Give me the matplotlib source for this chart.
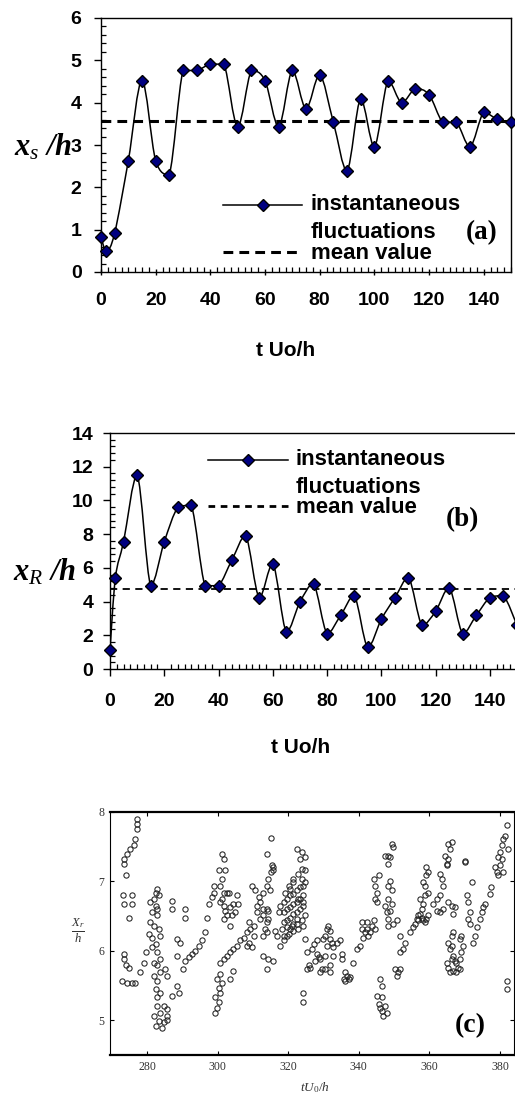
import numpy as np
import matplotlib
matplotlib.use('Agg')
import matplotlib.pyplot as plt
from matplotlib.path import Path
from matplotlib.patches import PathPatch
from matplotlib.ticker import MultipleLocator

plt.rcParams['font.family'] = ['Liberation Sans', 'DejaVu Sans']
plt.rcParams['mathtext.fontset'] = 'custom'
plt.rcParams['mathtext.rm'] = 'Liberation Serif'
plt.rcParams['mathtext.it'] = 'Liberation Serif:italic'
plt.rcParams['mathtext.bf'] = 'Liberation Serif:bold:italic'

# panel (a): separation point x_s/h
t_a = [0, 2, 5, 10, 15, 20, 25, 30, 35, 40, 45, 50, 55, 60, 65, 70, 75, 80, 85, 90,
       95, 100, 105, 110, 115, 120, 125, 130, 135, 140, 145, 150]
xs_a = [0.82, 0.49, 0.92, 2.63, 4.52, 2.63, 2.30, 4.76, 4.76, 4.91, 4.91, 3.43, 4.76, 4.52,
        3.43, 4.76, 3.86, 4.66, 3.54, 2.39, 4.09, 2.96, 4.52, 4.00, 4.33, 4.19, 3.54, 3.54,
        2.96, 3.77, 3.61, 3.54]
mean_a = 3.57

# panel (b): reattachment point x_R/h
t_b = [0, 2, 5, 10, 15, 20, 25, 30, 35, 40, 45, 50, 55, 60, 65, 70, 75, 80, 85, 90,
       95, 100, 105, 110, 115, 120, 125, 130, 135, 140, 145, 150]
xr_b = [1.15, 5.42, 7.55, 11.49, 4.94, 7.55, 9.59, 9.71, 4.94, 4.94, 6.49, 7.91, 4.23, 6.25,
        2.19, 3.97, 5.06, 2.10, 3.18, 4.35, 1.29, 2.95, 4.23, 5.42, 2.59, 3.42, 4.82, 2.10,
        3.18, 4.23, 4.35, 2.59]
mean_b = 4.77

# panel (c): scanned scatter X_r/h vs tU0/h
t_c = [277.2, 277.2, 277.2, 276.7, 276.2, 275.3, 274.3, 273.6, 273.6, 273.9,
       273.2, 275.8, 273.4, 275.6, 274.8, 273.4, 273.4, 273.9, 274.8,
       272.9, 274.3, 275.8, 276.7, 278.1, 279.1, 279.8,
       282.8, 282.4, 283.3, 281.9, 280.9, 282.4, 282.8, 281.4, 282.8,
       280.9, 281.9, 283.3, 280.5, 281.4, 283.8,
       282.4, 281.4, 282.8, 283.8, 281.9, 282.8, 283.8, 281.9, 282.8,
       282.4, 283.8, 282.8,
       282.8, 284.7, 285.7, 283.8, 281.9, 285.7, 283.3, 284.7, 282.4, 284.2, 285.7,
       285.2, 285.7,
       287.1, 287.1, 287.1, 288.5, 289.0, 288.5, 289.4, 288.5,
       290.8, 290.8, 290.2,
       290.8, 291.8, 292.7, 293.7, 294.6, 295.6, 296.5,
       297.0, 298.9, 298.9, 298.4, 297.5,
       299.3, 299.8, 300.3, 299.3, 300.8, 300.3, 301.2, 299.8, 300.8,
       301.2, 301.7, 302.2, 300.3,
       301.2, 300.8, 301.7, 301.2, 302.6,
       300.8, 301.7, 302.2, 303.6, 302.6, 304.1, 301.7, 303.6,
       300.8, 301.7, 302.6, 303.6, 304.5, 305.5, 306.4, 307.4, 308.3, 309.2, 310.2,
       303.1, 304.5, 303.6, 304.5,
       305.5, 305.9, 305.0,
       308.8, 308.8, 308.3, 309.7, 310.2,
       309.7, 310.7, 311.6, 311.1, 312.1, 313.0, 313.0, 314.0, 313.5, 312.1, 311.1,
       313.0, 314.0, 314.4, 315.1, 315.4, 314.0, 315.1, 315.7, 315.7,
       314.9, 314.0, 314.4, 314.0, 313.0, 314.4,
       313.0, 314.4, 315.8, 314.0,
       317.7, 318.7, 319.6, 320.6, 321.5, 322.5,
       317.3, 316.8, 316.3,
       317.7, 318.7, 319.6, 320.6, 321.5, 322.5, 323.4, 324.3,
       318.7, 319.6, 320.6, 321.5, 322.5, 323.4, 324.3,
       318.7, 319.6, 320.6, 321.5, 322.5, 323.4, 324.3,
       318.2, 319.6, 321.0, 322.5, 323.9, 324.8,
       318.7, 320.1, 321.5, 322.9, 324.3,
       319.2, 320.1, 321.5, 322.9, 323.9, 324.8, 323.4, 322.5, 323.9, 324.8,
       321.5, 320.6, 323.9, 324.8, 322.9, 324.2,
       324.3, 324.3,
       324.8, 325.3, 325.8, 325.3, 326.2,
       326.7, 327.2, 328.1,
       327.6, 328.6, 329.1, 329.5, 329.1, 328.1,
       330.0, 330.5, 330.9, 331.4, 331.9, 331.9, 330.9, 332.4, 332.8, 332.8,
       330.5, 331.9, 331.9, 330.5,
       333.8, 334.7, 335.2, 335.2,
       336.1, 335.7, 336.6, 337.1, 337.5, 336.1,
       338.5, 339.4, 340.4,
       340.8, 341.8, 341.3, 342.3, 342.7, 343.2, 343.7, 344.2, 344.6, 342.3, 340.8,
       344.2, 344.6, 345.1, 344.6, 345.6, 345.1,
       345.1, 345.6, 346.0, 346.5, 347.0, 347.9, 347.5, 346.5,
       346.0, 346.5,
       347.5, 347.9, 348.4, 348.4, 349.8, 350.8, 348.9,
       347.5, 348.4, 349.3, 349.6, 348.9, 348.4,
       348.9, 348.4, 348.4, 349.3,
       350.3, 351.2, 350.8, 351.7,
       351.7, 351.7, 352.6, 353.1, 349.3,
       354.5, 355.5, 355.9, 356.4, 356.9, 357.4, 357.8, 356.9, 358.3, 358.8, 359.2, 359.7,
       357.8, 358.3, 357.4, 358.8,
       359.2, 359.7, 359.2, 358.3, 358.8, 359.7,
       361.1, 362.1, 363.0, 364.0, 363.5, 363.0, 364.9, 365.4, 364.4, 365.8, 366.3, 365.4,
       362.1, 363.0, 364.0, 365.4,
       364.9, 365.4, 365.8, 366.3, 366.8, 365.8, 365.4, 366.3, 366.8, 366.3, 367.2, 367.7,
       368.7, 368.2, 368.7, 366.8, 367.7, 369.1, 369.6, 369.1, 368.7,
       366.3, 367.2, 366.8,
       364.9, 370.1, 370.1,
       370.6, 371.0, 371.5, 371.0, 371.5, 372.0,
       372.5, 372.9, 373.4, 374.3, 374.8, 375.3, 375.8,
       377.6, 377.2, 378.6,
       379.5, 380.0, 380.5, 380.9, 381.4, 381.9, 380.5, 380.0, 380.9, 379.5, 382.4, 379.1,
       381.9, 381.9]
xr_c = [7.90, 7.83, 7.76, 7.61, 7.52, 7.47, 7.40, 7.33, 7.25, 7.09,
        6.81, 6.81, 6.68, 6.68, 6.48, 5.95, 5.88, 5.79, 5.76,
        5.57, 5.54, 5.53, 5.54, 5.69, 5.82, 5.98,
        6.89, 6.84, 6.80, 6.75, 6.70, 6.65, 6.60, 6.56, 6.51,
        6.41, 6.36, 6.31, 6.24, 6.19, 6.22,
        6.10, 6.05, 5.98, 5.88, 5.83, 5.79, 5.69, 5.64, 5.57,
        5.45, 5.40, 5.33,
        5.21, 5.21, 5.16, 5.11, 5.06, 5.06, 4.99, 4.97, 4.92, 4.89, 5.01,
        5.74, 5.64,
        6.72, 6.60, 5.35, 5.50, 5.40, 6.17, 6.12, 5.93,
        6.60, 6.47, 5.74,
        5.86, 5.91, 5.95, 6.00, 6.07, 6.15, 6.27,
        6.48, 6.84, 6.94, 6.77, 6.68,
        5.11, 5.18, 5.26, 5.33, 5.40, 5.47, 5.54, 5.59, 5.66,
        7.40, 7.33, 7.16, 7.16,
        7.04, 6.94, 6.84, 6.75, 6.84,
        6.70, 6.65, 6.58, 6.63, 6.51, 6.51, 6.46, 6.36,
        5.83, 5.88, 5.93, 5.98, 6.03, 6.07, 6.15, 6.19, 6.27, 6.31, 6.36,
        6.84, 6.68, 5.59, 5.71,
        6.80, 6.68, 6.56,
        6.41, 6.12, 6.07, 6.05, 6.22,
        6.94, 6.87, 6.77, 6.65, 6.70, 6.60, 6.51, 6.41, 6.31, 6.46, 6.56,
        6.84, 6.94, 7.04, 7.13, 7.23, 7.40, 7.63, 7.21, 7.16,
        6.87, 6.60, 6.46, 6.27, 6.22, 6.58,
        5.93, 5.88, 5.86, 5.74,
        6.07, 6.15, 6.22, 6.31, 6.39, 6.46,
        6.56, 6.22, 6.29,
        6.65, 6.70, 6.75, 6.80, 6.82, 6.87, 6.92, 6.94,
        6.56, 6.60, 6.63, 6.68, 6.70, 6.75, 6.80,
        6.41, 6.44, 6.48, 6.53, 6.56, 6.60, 6.65,
        6.31, 6.34, 6.36, 6.39, 6.44, 6.51,
        6.22, 6.24, 6.29, 6.31, 6.36,
        6.84, 6.94, 7.04, 7.11, 7.18, 7.16, 7.33, 7.47, 7.42, 7.35,
        6.99, 6.89, 7.04, 6.99, 6.75, 6.70,
        5.40, 5.26,
        6.17, 5.98, 5.79, 5.74, 5.76,
        6.03, 6.10, 6.15,
        5.86, 5.91, 5.69, 5.74, 5.88, 5.95,
        6.17, 6.22, 6.31, 6.36, 6.29, 6.17, 6.07, 6.12, 6.05, 5.93,
        5.74, 5.79, 5.69, 5.93,
        6.12, 6.15, 5.95, 5.88,
        5.69, 5.59, 5.64, 5.59, 5.62, 5.57,
        5.83, 6.03, 6.07,
        6.41, 6.27, 6.19, 6.31, 6.22, 6.27, 6.36, 6.44, 6.31, 6.41, 6.31,
        7.04, 6.94, 6.84, 6.75, 7.09, 6.70,
        5.35, 5.23, 5.18, 5.14, 5.06, 5.11, 5.21, 5.33,
        5.59, 5.50,
        6.65, 6.56, 6.46, 6.36, 6.39, 6.44, 6.58,
        7.37, 7.37, 7.54, 7.49, 7.35, 7.25,
        7.01, 6.94, 6.75, 6.68,
        5.74, 5.69, 5.64, 5.74,
        6.22, 5.98, 6.03, 6.12, 6.87,
        6.27, 6.34, 6.39, 6.46, 6.51, 6.53, 6.48, 6.44, 6.44, 6.41, 6.46, 6.51,
        6.60, 6.68, 6.75, 6.80,
        7.21, 7.13, 7.09, 6.99, 6.94, 6.84,
        6.68, 6.75, 6.80, 6.94, 7.04, 7.11, 7.23, 7.33, 7.37, 7.47, 7.57, 7.54,
        6.58, 6.56, 6.60, 6.70,
        5.83, 5.76, 5.69, 5.88, 5.93, 6.03, 6.12, 6.22, 6.27, 6.07, 5.86, 5.83,
        5.88, 5.76, 5.74, 5.71, 5.69, 5.98, 6.07, 6.22, 6.17,
        6.65, 6.63, 6.53,
        7.25, 7.28, 7.30,
        6.80, 6.70, 6.56, 6.46, 6.39, 6.99,
        6.12, 6.22, 6.34, 6.46, 6.56, 6.63, 6.68,
        6.92, 6.82, 7.21,
        7.35, 7.42, 7.52, 7.61, 7.66, 7.81, 7.33, 7.23, 7.13, 7.09, 7.47, 7.13,
        5.57, 5.45]

W, H = 515, 1095


def smooth_path(x, y):
    # Excel-like smoothed line: cubic Bezier through every point,
    # control points kept inside each segment's y range (no big overshoot)
    x = np.asarray(x, float)
    y = np.asarray(y, float)
    n = len(x)
    verts = [(x[0], y[0])]
    codes = [Path.MOVETO]
    for i in range(n - 1):
        i0 = max(i - 1, 0)
        i3 = min(i + 2, n - 1)
        lo, hi = min(y[i], y[i + 1]), max(y[i], y[i + 1])
        c1y = np.clip(y[i] + (y[i + 1] - y[i0]) / 6, lo, hi)
        c2y = np.clip(y[i + 1] - (y[i3] - y[i]) / 6, lo, hi)
        c1 = (x[i] + (x[i + 1] - x[i0]) / 6, c1y)
        c2 = (x[i + 1] - (x[i3] - x[i]) / 6, c2y)
        verts += [c1, c2, (x[i + 1], y[i + 1])]
        codes += [Path.CURVE4] * 3
    return Path(verts, codes)


def box(l, t, r, b):
    return [l / W, 1 - b / H, (r - l) / W, (b - t) / H]


def excel_axes(ax, ylim, ymaj, ymin, xtick_dir, ypad):
    ax.set_xlim(0, 150)
    ax.set_ylim(*ylim)
    ax.xaxis.set_minor_locator(MultipleLocator(2.5))
    ax.yaxis.set_major_locator(MultipleLocator(ymaj))
    ax.yaxis.set_minor_locator(MultipleLocator(ymin))
    ax.set_xticks(np.arange(0, 141, 20))
    ax.tick_params(axis='x', which='major', direction=xtick_dir, length=5, width=1, pad=12,
                   labelsize=14)
    ax.tick_params(axis='y', which='major', direction='out', length=5, width=1, pad=ypad,
                   labelsize=14)
    ax.tick_params(which='minor', direction='in', length=3.5, width=0.9)
    for lab in ax.get_xticklabels() + ax.get_yticklabels():
        lab.set_fontweight('bold')
    for s in ax.spines.values():
        s.set_linewidth(1.0)


def legend(ax, x0, x1, y1, y2, y3, dash, dlw):
    xm = (x0 + x1) / 2
    ax.plot([x0, x1], [y1, y1], color='k', lw=1.1, transform=ax.transAxes, clip_on=False)
    ax.plot([xm], [y1], 'D', ms=6, mfc='#000080', mec='k', mew=1.0,
            transform=ax.transAxes, clip_on=False)
    ax.plot([x0, x1], [y3, y3], color='k', lw=dlw, ls=(0, dash), transform=ax.transAxes,
            clip_on=False)
    tx = x1 + 0.02
    kw = dict(transform=ax.transAxes, fontsize=16, fontweight='bold', va='center', ha='left')
    ax.text(tx, y1, 'instantaneous', **kw)
    ax.text(tx, y2, 'fluctuations', **kw)
    ax.text(tx, y3 - 0.005, 'mean value', **kw)


fig = plt.figure(figsize=(W / 100, H / 100), dpi=100)

# (a)
ax1 = fig.add_axes(box(101, 18, 511, 272))
excel_axes(ax1, (0, 6), 1, 0.2, 'inout', 9)
ax1.add_patch(PathPatch(smooth_path(t_a, xs_a), fill=False, ec='k', lw=1.1))
ax1.plot(t_a, xs_a, 'D', ms=6, mfc='#000080', mec='k', mew=1.0, clip_on=False, zorder=3)
ax1.axhline(mean_a, color='k', lw=2.2, ls=(0, (3.2, 2.0)))
legend(ax1, 0.297, 0.491, 0.264, 0.154, 0.079, (3.2, 2.0), 2.2)
ax1.text(0.929, 0.154, '(a)', transform=ax1.transAxes, fontsize=19.5, fontweight='bold',
         family='Liberation Serif', ha='center', va='center')
ax1.text(-0.141, 0.492, r'$\mathbf{x}_{\mathit{s}}\ \mathbf{/h}$', transform=ax1.transAxes,
         fontsize=22, ha='center', va='center')
ax1.text(0.45, -0.31, 't Uo/h', transform=ax1.transAxes, fontsize=15, fontweight='bold',
         ha='center', va='center')

# (b)
ax2 = fig.add_axes(box(110, 433, 517, 669))
excel_axes(ax2, (0, 14), 2, 0.4, 'out', 7)
ax2.add_patch(PathPatch(smooth_path(t_b, xr_b), fill=False, ec='k', lw=1.1))
ax2.plot(t_b, xr_b, 'D', ms=6, mfc='#000080', mec='k', mew=1.0, clip_on=False, zorder=3)
ax2.axhline(mean_b, color='k', lw=1.3, ls=(0, (4, 3)))
legend(ax2, 0.241, 0.437, 0.886, 0.771, 0.691, (2.4, 2.0), 2.0)
ax2.text(0.865, 0.631, '(b)', transform=ax2.transAxes, fontsize=19.5, fontweight='bold',
         family='Liberation Serif', ha='center', va='center')
ax2.text(-0.162, 0.411, r'$\mathbf{x}_{\mathit{R}}\ \mathbf{/h}$', transform=ax2.transAxes,
         fontsize=22, ha='center', va='center')
ax2.text(0.467, -0.333, 't Uo/h', transform=ax2.transAxes, fontsize=15, fontweight='bold',
         ha='center', va='center')

# (c)
ax3 = fig.add_axes(box(110, 812, 514, 1055))
ax3.plot(t_c, xr_c, 'o', ms=3.8, mfc='none', mec='#222222', mew=0.75)
ax3.set_xlim(269.5, 384.0)
ax3.set_ylim(4.5, 8.0)
ax3.set_xticks([280, 300, 320, 340, 360, 380])
ax3.set_yticks([5, 6, 7, 8])
ax3.tick_params(direction='in', length=3, width=0.8, top=True, right=True, labelsize=8.5,
                labelcolor='#333333', pad=4)
for lab in ax3.get_xticklabels() + ax3.get_yticklabels():
    lab.set_family('Liberation Serif')
for k in ['top', 'bottom']:
    ax3.spines[k].set_linewidth(1.6)
for k in ['left', 'right']:
    ax3.spines[k].set_linewidth(0.8)
ax3.text(0.891, 0.123, '(c)', transform=ax3.transAxes, fontsize=20, fontweight='bold',
         family='Liberation Serif', ha='center', va='center')
ax3.text(-0.079, 0.514, r'$\frac{X_r}{h}$', transform=ax3.transAxes, fontsize=13,
         color='#333333', ha='center', va='center')
ax3.text(0.507, -0.136, r'$tU_0/h$', transform=ax3.transAxes, fontsize=9.5,
         color='#333333', ha='center', va='center')

fig.savefig('out.png', dpi=100)
